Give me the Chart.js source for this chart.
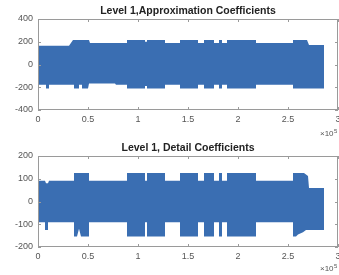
<!DOCTYPE html>
<html>
<head>
<meta charset="utf-8">
<script src="https://cdn.jsdelivr.net/npm/chart.js@4"></script>
<style>
  body { margin: 0; background: #fff; }
  #wrap { position: relative; width: 339px; height: 275px; overflow: hidden; }
  canvas { position: absolute; left: 0; }
  #c1 { top: 0; }
  #c2 { top: 135px; }
</style>
</head>
<body>
<div id="wrap">
  <canvas id="c1" width="339" height="140"></canvas>
  <canvas id="c2" width="339" height="140"></canvas>
</div>
<script>
// envelope of the level 1 approximation coefficients (sample index, value)
const approxUpX = [0, 31000, 35000, 51000, 52000, 89000, 89000, 107000, 107000, 109000, 109000, 127000, 127000, 142000, 142000, 160000, 160000, 166000, 166000, 176000, 176000, 181000, 181000, 184000, 184000, 189000, 189000, 218000, 218000, 255000, 255000, 269000, 271000, 286000];
const approxUpY = [165, 165, 215, 215, 189, 189, 215, 215, 200, 200, 215, 215, 189, 189, 215, 215, 189, 189, 215, 215, 189, 189, 215, 215, 189, 189, 215, 215, 189, 189, 215, 215, 171, 171];
const approxLoX = [0, 8000, 8000, 11000, 11000, 36000, 36000, 41000, 41000, 44000, 44000, 50000, 51000, 77000, 78000, 89000, 89000, 107000, 107000, 109000, 109000, 127000, 127000, 142000, 142000, 160000, 160000, 166000, 166000, 176000, 176000, 181000, 181000, 184000, 184000, 189000, 189000, 218000, 218000, 255000, 255000, 286000];
const approxLoY = [-178, -178, -210, -210, -178, -178, -210, -210, -178, -178, -210, -210, -168, -168, -178, -178, -210, -210, -190, -190, -210, -210, -178, -178, -210, -210, -178, -178, -210, -210, -178, -178, -210, -210, -178, -178, -210, -210, -178, -178, -210, -210];

// envelope of the level 1 detail coefficients
const detailUpX = [0, 7000, 8000, 10000, 11000, 36000, 36000, 51000, 51000, 89000, 89000, 107000, 107000, 109000, 109000, 127000, 127000, 142000, 142000, 160000, 160000, 166000, 166000, 176000, 176000, 181000, 181000, 184000, 184000, 189000, 189000, 218000, 218000, 255000, 255000, 266000, 270000, 271000, 286000];
const detailUpY = [91, 91, 80, 80, 91, 91, 125, 125, 91, 91, 125, 125, 91, 91, 125, 125, 91, 91, 125, 125, 91, 91, 125, 125, 91, 91, 125, 125, 91, 91, 125, 125, 91, 91, 125, 125, 112, 59, 59];
const detailLoX = [0, 7000, 7000, 10000, 10000, 36000, 36000, 39000, 41000, 43000, 51000, 51000, 89000, 89000, 107000, 107000, 109000, 109000, 127000, 127000, 142000, 142000, 160000, 160000, 166000, 166000, 176000, 176000, 181000, 181000, 184000, 184000, 189000, 189000, 218000, 218000, 255000, 255000, 258000, 260000, 265000, 268000, 286000];
const detailLoY = [-91, -91, -125, -125, -91, -91, -154, -154, -120, -154, -154, -91, -91, -154, -154, -91, -91, -154, -154, -91, -91, -154, -154, -91, -91, -154, -154, -91, -91, -154, -154, -91, -91, -154, -154, -91, -91, -154, -154, -145, -135, -125, -125];

const xTicks = [0, 50000, 100000, 150000, 200000, 250000, 300000];
const approxTicks = [-400, -200, 0, 200, 400];
const detailTicks = [-200, -100, 0, 100, 200];

const blue = 'rgb(58,110,178)';
const font = "'Liberation Sans', Arial, sans-serif";

function envelope(ux, uy, lx, ly) {
  const pts = ux.map((x, i) => ({ x, y: uy[i] }));
  for (let i = lx.length - 1; i >= 0; i--) pts.push({ x: lx[i], y: ly[i] });
  return pts;
}

const boxPlugin = {
  id: 'box',
  afterDraw(chart, args, opts) {
    const { ctx, chartArea: a, scales } = chart;
    const x = scales.x, y = scales.y;
    ctx.save();
    ctx.strokeStyle = '#9a9a9a';
    ctx.lineWidth = 1;
    ctx.strokeRect(Math.round(a.left) + 0.5, Math.round(a.top) + 0.5,
      Math.round(a.right - a.left) - 1, Math.round(a.bottom - a.top) - 1);
    ctx.beginPath();
    xTicks.forEach(v => {
      const px = Math.round(x.getPixelForValue(v)) + 0.5;
      ctx.moveTo(px, a.bottom); ctx.lineTo(px, a.bottom - 3);
      ctx.moveTo(px, a.top); ctx.lineTo(px, a.top + 3);
    });
    opts.yTicks.forEach(v => {
      const py = Math.round(y.getPixelForValue(v)) + 0.5;
      ctx.moveTo(a.left, py); ctx.lineTo(a.left + 3, py);
      ctx.moveTo(a.right, py); ctx.lineTo(a.right - 3, py);
    });
    ctx.stroke();

    ctx.fillStyle = '#222';
    ctx.font = 'bold 10.5px ' + font;
    ctx.textAlign = 'center';
    ctx.textBaseline = 'middle';
    ctx.fillText(opts.title, (a.left + a.right) / 2, opts.titleY);

    ctx.fillStyle = '#555';
    ctx.textAlign = 'left';
    ctx.font = '8px ' + font;
    ctx.fillText('\u00d710', 320, opts.expY);
    ctx.font = '6px ' + font;
    ctx.fillText('5', 334, opts.expY - 3);
    ctx.restore();
  }
};

function makeChart(id, pts, yTicks, title, layout) {
  new Chart(document.getElementById(id), {
    type: 'line',
    data: {
      datasets: [{
        data: pts,
        borderWidth: 0,
        borderColor: blue,
        backgroundColor: blue,
        pointRadius: 0,
        fill: 'shape',
        tension: 0
      }]
    },
    options: {
      responsive: false,
      animation: false,
      devicePixelRatio: 1,
      layout: { padding: { top: layout.top, right: 1, left: 0, bottom: 0 } },
      plugins: {
        legend: { display: false },
        tooltip: { enabled: false },
        box: { yTicks, title, titleY: layout.titleY, expY: layout.expY }
      },
      scales: {
        x: {
          type: 'linear',
          min: 0,
          max: 300000,
          afterFit: s => { s.height = layout.xh; s.paddingLeft = 0; s.paddingRight = 0; },
          afterBuildTicks: s => { s.ticks = xTicks.map(v => ({ value: v })); },
          grid: { display: false, drawTicks: false },
          border: { display: false },
          ticks: {
            padding: 4,
            color: '#555',
            font: { family: font, size: 9 },
            maxRotation: 0,
            autoSkip: false,
            callback: v => String(v / 100000)
          }
        },
        y: {
          min: yTicks[0],
          max: yTicks[yTicks.length - 1],
          afterFit: s => { s.width = 38; s.paddingTop = 0; s.paddingBottom = 0; },
          afterBuildTicks: s => { s.ticks = yTicks.map(v => ({ value: v })); },
          grid: { display: false, drawTicks: false },
          border: { display: false },
          ticks: {
            padding: 5,
            color: '#555',
            font: { family: font, size: 9 }
          }
        }
      }
    },
    plugins: [boxPlugin]
  });
}

makeChart('c1', envelope(approxUpX, approxUpY, approxLoX, approxLoY), approxTicks,
  'Level 1,Approximation Coefficients', { top: 19, xh: 30, titleY: 11, expY: 134 });
makeChart('c2', envelope(detailUpX, detailUpY, detailLoX, detailLoY), detailTicks,
  'Level 1, Detail Coefficients', { top: 21, xh: 28, titleY: 13, expY: 134 });
</script>
</body>
</html>
